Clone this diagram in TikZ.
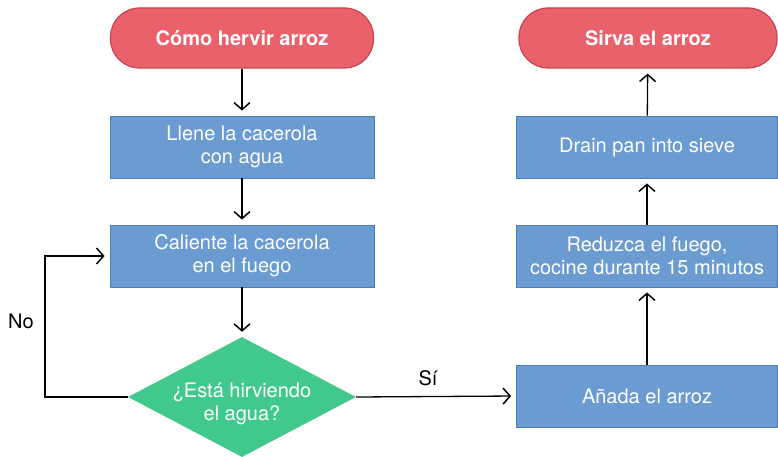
\documentclass[tikz,border=0pt]{standalone}
\usepackage{fontspec}
\setmainfont{TeX Gyre Heros}
\usetikzlibrary{arrows.meta,shapes.geometric}
\definecolor{termred}{HTML}{E9616B}
\definecolor{termedge}{HTML}{C8444F}
\definecolor{procblue}{HTML}{6A9BD1}
\definecolor{procedge}{HTML}{4D7DB3}
\definecolor{decgreen}{HTML}{41C98D}
\begin{document}
\begin{tikzpicture}[x=1pt,y=-1pt,
  txt/.style={font=\fontsize{20}{23}\selectfont},
  term/.style={txt,draw=termedge,line width=1.2pt,fill=termred,text=white,
    minimum height=60pt,rounded corners=29pt,inner sep=0pt,font=\fontsize{20}{23}\selectfont\bfseries},
  proc/.style={txt,draw=procedge,line width=0.9pt,fill=procblue,text=white,
    minimum height=62pt,inner sep=0pt,align=center},
  dec/.style={diamond,draw=none,fill=decgreen,minimum width=228pt,minimum height=120pt,inner sep=0pt},
  arr/.style={draw=black,line width=1.3pt,-{Straight Barb[length=7pt,width=16pt,line width=1.5pt]},shorten >=5pt},
  lbl/.style={txt,text=black,inner sep=0pt}
]
\useasboundingbox (0,0) rectangle (778,457);
\fill[white] (0,0) rectangle (778,457);

\node[term,minimum width=263pt] (start) at (242,38) {Cómo hervir arroz};
\node[proc,minimum width=264pt] (b1) at (242,147) {Llene la cacerola\\con agua};
\node[proc,minimum width=264pt] (b2) at (242,256) {Caliente la cacerola\\en el fuego};
\node[dec] (d) at (242,397) {};
\node[txt,text=white,align=center,inner sep=0pt] (dt) at (242,404) {¿Está hirviendo\\el agua?};

\node[term,minimum width=258pt] (end) at (648,38) {Sirva el arroz};
\node[proc,minimum width=261pt] (r1) at (647,147) {Drain pan into sieve};
\node[proc,minimum width=261pt] (r2) at (647,256) {Reduzca el fuego,\\cocine durante 15 minutos};
\node[proc,minimum width=261pt] (r3) at (647,396) {Añada el arroz};

\draw[arr] (start) -- (b1);
\draw[arr] (b1) -- (b2);
\draw[arr] (b2) -- (d.north);

\coordinate (nl) at (45,397);
\coordinate (nu) at (45,256);
\draw[arr] (d.west) -- (nl) -- (nu) -- (b2.west);
\node[lbl] (no) at (21,321) {No};

\draw[arr] (d.east) -- (r3.west);
\node[lbl] (si) at (428,378) {Sí};

\draw[arr] (r3) -- (r2);
\draw[arr] (r2) -- (r1);
\draw[arr] (r1) -- (end);
\end{tikzpicture}
\end{document}
